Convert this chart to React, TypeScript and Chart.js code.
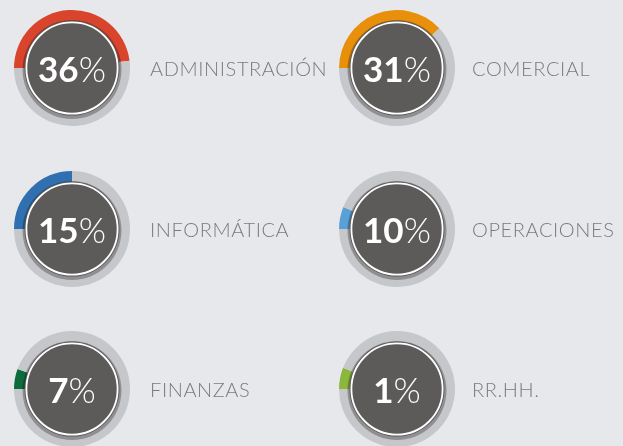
import React, { useEffect, useRef } from "react";
import { Chart, registerables } from "chart.js";

Chart.register(...registerables);

const categories = ["ADMINISTRACIÓN", "COMERCIAL", "INFORMÁTICA", "OPERACIONES", "FINANZAS", "RR.HH."];
const percentages = [36, 31, 15, 10, 7, 1];
// visible fraction of each ring filled with colour
const arcFill = [0.48, 0.38, 0.25, 0.062, 0.056, 0.06];
const colors = ["#d8452c", "#e8900c", "#3070b0", "#5a9fd6", "#0e6b3c", "#8cb63c"];

const BG = "#e6e8ec";
const RING = "#c6c7cb";
const COLS = [72, 397];
const LABEL_X = [150, 472];
const ROWS = [68, 229, 389];
const SIZE = 130;

const centerPlugin = {
  id: "centerDisc",
  afterDatasetsDraw(chart: any) {
    const ctx = chart.ctx;
    const meta = chart.getDatasetMeta(0);
    const arc = meta.data[0];
    if (!arc) return;
    const cx = arc.x;
    const cy = arc.y;
    ctx.save();
    ctx.beginPath();
    ctx.arc(cx, cy + 1.5, 49.5, 0, Math.PI * 2);
    ctx.fillStyle = "rgba(0,0,0,0.28)";
    ctx.fill();
    ctx.beginPath();
    ctx.arc(cx, cy, 47.5, 0, Math.PI * 2);
    ctx.fillStyle = "#5d5a5a";
    ctx.fill();
    ctx.beginPath();
    ctx.arc(cx, cy, 45.6, 0, Math.PI * 2);
    ctx.strokeStyle = "#ffffff";
    ctx.lineWidth = 1.8;
    ctx.stroke();
    ctx.restore();
  },
};

function Gauge({ index }: { index: number }) {
  const ref = useRef<HTMLCanvasElement | null>(null);
  useEffect(() => {
    if (!ref.current) return;
    const f = arcFill[index];
    const chart = new Chart(ref.current, {
      type: "doughnut",
      data: {
        labels: [categories[index], ""],
        datasets: [
          {
            data: [f, 1 - f],
            backgroundColor: [colors[index], RING],
            borderWidth: 0,
            radius: 58,
            cutout: 46,
          } as any,
        ],
      },
      options: {
        responsive: false,
        maintainAspectRatio: false,
        animation: false,
        rotation: -90,
        layout: { padding: 0 },
        plugins: { legend: { display: false }, tooltip: { enabled: false } },
        events: [],
      } as any,
      plugins: [centerPlugin],
    });
    return () => chart.destroy();
  }, [index]);

  const col = index % 2;
  const row = Math.floor(index / 2);
  const cx = COLS[col];
  const cy = ROWS[row];
  return (
    <>
      <canvas
        ref={ref}
        width={SIZE}
        height={SIZE}
        style={{ position: "absolute", left: cx - SIZE / 2, top: cy - SIZE / 2, width: SIZE, height: SIZE }}
      />
      <div
        style={{
          position: "absolute",
          left: cx - 50,
          top: cy - 25,
          width: 100,
          height: 50,
          lineHeight: "50px",
          textAlign: "center",
          color: "#ffffff",
          fontFamily: "Lato, sans-serif",
          fontSize: 35,
          whiteSpace: "nowrap",
        }}
      >
        <span style={{ fontWeight: 700 }}>{percentages[index]}</span>
        <span style={{ fontWeight: 300 }}>%</span>
      </div>
      <div
        style={{
          position: "absolute",
          left: LABEL_X[col],
          top: cy - 15,
          height: 30,
          lineHeight: "30px",
          color: "#7b7b7d",
          fontFamily: "Lato, sans-serif",
          fontWeight: 300,
          fontSize: 20,
          letterSpacing: 0.6,
          whiteSpace: "nowrap",
        }}
      >
        {categories[index]}
      </div>
    </>
  );
}

export default function App() {
  useEffect(() => {
    document.body.style.margin = "0";
    document.body.style.background = BG;
  }, []);
  return (
    <div style={{ position: "relative", width: 623, height: 446, background: BG, overflow: "hidden" }}>
      {categories.map((_, i) => (
        <Gauge key={i} index={i} />
      ))}
    </div>
  );
}
